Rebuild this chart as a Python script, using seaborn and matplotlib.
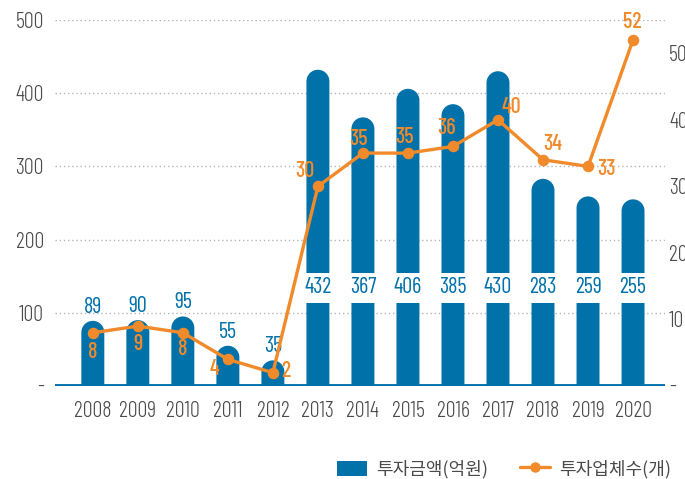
import matplotlib
matplotlib.use("Agg")
import matplotlib.pyplot as plt
from matplotlib.patches import PathPatch, Patch
from matplotlib.path import Path
from matplotlib.lines import Line2D
import seaborn as sns

# data
years = ["2008", "2009", "2010", "2011", "2012", "2013", "2014",
         "2015", "2016", "2017", "2018", "2019", "2020"]
amounts = [89, 90, 95, 55, 35, 432, 367, 406, 385, 430, 283, 259, 255]
companies = [8, 9, 8, 4, 2, 30, 35, 35, 36, 40, 34, 33, 52]
amount_name = "투자금액(억원)"
company_name = "투자업체수(개)"
left_ticks = [0, 100, 200, 300, 400, 500]
right_ticks = [0, 10, 20, 30, 40, 50]

# label offsets for the company counts (pixels)
company_offsets = [(0, -19), (0, -18), (0, -16), (-13, -10), (13, 2), (-13, 15),
                   (-4, 14), (-3, 16), (-6, 18), (13, 13), (10, 16), (18, -3), (-1, 18)]

blue = "#0071A9"
orange = "#F18A2A"
grey = "#4a4a4a"
num_font = "Barlow Condensed"
fs = 16

sns.set_style("white")
plt.rcParams["font.family"] = [num_font, "Noto Sans CJK KR", "DejaVu Sans"]

fig = plt.figure(figsize=(6.85, 4.79), dpi=100)
ax_box = [55 / 685, 93 / 479, 610 / 685, 366 / 479]
ax = fig.add_axes(ax_box)
xlim = (-0.84, 12.71)
ylim = (0, 500)

sns.barplot(x=years, y=amounts, color=blue, width=0.51, saturation=1, ax=ax)

# turn bars into bars with a round cap
px_x = ax_box[2] * 685 / (xlim[1] - xlim[0])
px_y = ax_box[3] * 479 / (ylim[1] - ylim[0])
for p in list(ax.patches):
    x0, w, h = p.get_x(), p.get_width(), p.get_height()
    p.remove()
    rx = w / 2
    ry = rx * px_x / px_y
    xc = x0 + rx
    arc = Path.arc(0, 180)
    av = arc.vertices * [rx, ry] + [xc, h - ry]
    verts = [(x0 + w, -40), (x0 + w, h - ry)] + [tuple(v) for v in av[1:]] + [(x0, -40), (x0 + w, -40)]
    codes = [Path.MOVETO, Path.LINETO] + list(arc.codes[1:]) + [Path.LINETO, Path.CLOSEPOLY]
    ax.add_patch(PathPatch(Path(verts, codes), facecolor=blue, edgecolor="none", zorder=2))

ax.set_xlim(*xlim)
ax.set_ylim(*ylim)
ax.set_yticks(left_ticks)
ax.set_yticklabels(["-"] + [str(t) for t in left_ticks[1:]])
ax.yaxis.grid(True, linestyle=(0, (1, 2)), color="#b5b5b5", linewidth=1)
ax.set_axisbelow(True)
for s in ax.spines.values():
    s.set_visible(False)
ax.axhline(0, color=blue, linewidth=3.5, zorder=3)
ax.tick_params(axis="x", length=0, pad=11, labelsize=fs, labelcolor=grey)
ax.tick_params(axis="y", length=0, pad=8, labelsize=fs, labelcolor=grey)
for t in ax.get_xticklabels() + ax.get_yticklabels():
    t.set_fontweight(300)
ax.set_xlabel("")
ax.set_ylabel("")

for i, v in enumerate(amounts):
    if v > 150:
        ax.text(i, 134, str(v), ha="center", va="center", fontsize=fs, color=blue,
                zorder=4, bbox=dict(boxstyle="square,pad=0.2", facecolor="white",
                                    edgecolor="none"))
    else:
        ax.annotate(str(v), (i, v), xytext=(0, 3), textcoords="offset pixels",
                    ha="center", va="bottom", fontsize=fs, color=blue)

ax2 = ax.twinx()
sns.pointplot(x=years, y=companies, color=orange, markers="o", linestyles="-",
              markersize=6.5, linewidth=2.4, ax=ax2)
ax2.set_xlim(*xlim)
ax2.set_ylim(0, 55)
ax2.set_yticks(right_ticks)
ax2.set_yticklabels(["-"] + [str(t) for t in right_ticks[1:]])
ax2.tick_params(axis="y", length=0, pad=3, labelsize=fs, labelcolor=grey)
for t in ax2.get_yticklabels():
    t.set_fontweight(300)
ax2.tick_params(axis="x", length=0, labelbottom=False)
ax2.set_xlabel("")
ax2.set_ylabel("")
for s in ax2.spines.values():
    s.set_visible(False)

for i, (v, off) in enumerate(zip(companies, company_offsets)):
    ax2.annotate(str(v), (i, v), xytext=off, textcoords="offset pixels",
                 ha="center", va="center", fontsize=fs, color=orange,
                 fontweight=500, annotation_clip=False)

handles = [Patch(facecolor=blue, edgecolor="none"),
           Line2D([], [], color=orange, marker="o", markersize=6.5, linewidth=2.4)]
fig.legend(handles, [amount_name, company_name], loc="center",
           bbox_to_anchor=(504 / 685, 1 - 469 / 479), ncol=2, frameon=False,
           prop={"family": ["Noto Sans CJK KR"], "size": 13},
           handlelength=1.65, handleheight=0.9, columnspacing=1.8, handletextpad=0.5,
           labelcolor=grey)

fig.savefig("out.png", dpi=100)
